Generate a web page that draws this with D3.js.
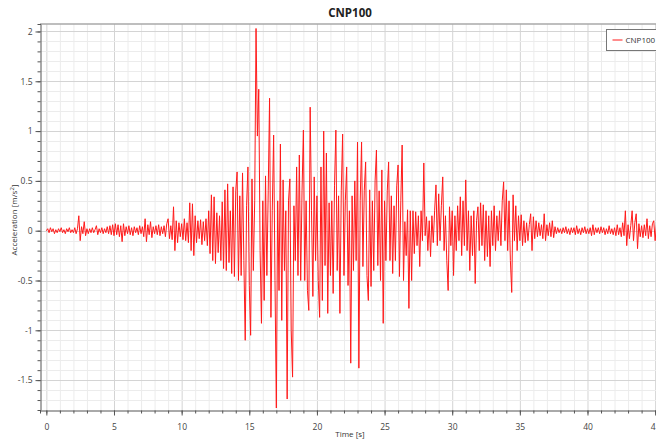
<!DOCTYPE html>
<html>
<head>
<meta charset="utf-8">
<script src="https://cdn.jsdelivr.net/npm/d3@7"></script>
<style>
	body { margin: 0; background: #fff; }
	text { font-family: "Open Sans", "Noto Sans", sans-serif; }
</style>
</head>
<body>
<svg class="line-chart"></svg>
<script>
var seriesName = "CNP100";
var timeStep = 0.1; // s, record sampling used for the trace below
// acceleration [m/s2], one row per second starting at t = 0 s
var accel = [
	0.00, 0.02, -0.02, 0.03, -0.01, 0.02, -0.03, 0.01, -0.02, 0.02,
	-0.01, 0.03, -0.02, 0.01, -0.03, 0.02, -0.01, 0.03, -0.02, 0.01,
	-0.02, 0.03, -0.03, 0.02, 0.15, -0.10, 0.04, -0.03, 0.09, -0.05,
	0.02, -0.03, 0.02, -0.02, 0.03, -0.02, 0.01, 0.05, -0.04, 0.02,
	-0.02, 0.03, -0.03, 0.02, -0.02, 0.04, -0.03, 0.05, -0.04, 0.06,
	-0.05, 0.07, -0.04, 0.06, -0.06, 0.05, -0.11, 0.07, -0.05, 0.04,
	-0.03, 0.05, -0.04, 0.03, -0.05, 0.04, -0.02, 0.03, -0.04, 0.05,
	-0.03, 0.04, -0.06, 0.12, -0.11, 0.06, -0.04, 0.09, -0.07, 0.04,
	-0.03, 0.05, -0.04, 0.06, -0.05, 0.04, -0.03, 0.05, -0.06, 0.07,
	0.12, -0.08, 0.05, -0.09, 0.24, -0.20, 0.10, -0.12, 0.08, -0.06,
	0.07, -0.09, 0.12, -0.10, 0.08, -0.12, 0.28, -0.20, 0.27, -0.25,
	0.15, -0.12, 0.10, -0.08, 0.11, -0.14, 0.09, -0.10, 0.12, -0.15,
	0.20, -0.23, 0.36, -0.30, 0.34, -0.33, 0.18, -0.22, 0.15, -0.30,
	0.29, -0.38, 0.41, -0.40, 0.47, -0.32, 0.20, -0.43, 0.44, -0.46,
	0.40, 0.59, -0.50, 0.35, -0.45, 0.58, -0.30, -1.10, 0.25, 0.64,
	-0.55, -1.05, 0.52, -0.40, 0.30, 2.03, 0.95, 1.42, -0.20, -0.93,
	0.30, -0.70, 0.55, -0.45, 0.40, 1.33, -0.87, 0.20, 0.96, -0.50,
	-1.78, 0.30, -0.60, 0.87, -0.90, 0.51, -0.40, 0.20, -1.69, 0.30,
	0.52, -1.00, -1.47, 0.25, -0.30, 0.64, -0.45, 0.76, -0.50, 0.40,
	1.01, -0.50, 0.30, -0.60, -0.80, 1.24, 0.20, -0.66, 0.54, -0.30,
	0.35, -0.50, -0.87, 0.64, -0.70, 1.00, -0.35, 0.78, -0.83, 0.28,
	-0.45, 0.30, -0.63, 0.45, 1.01, -0.40, 0.35, -0.83, 0.40, 0.97,
	-0.45, 0.30, 0.64, -0.55, 0.20, -1.33, 0.35, -0.40, 0.50, -0.30,
	0.89, -1.38, 0.30, 0.89, -0.36, 0.40, 0.69, -0.45, -0.70, 0.41,
	-0.56, 0.30, -0.40, 0.50, 0.81, -0.35, 0.40, -0.50, 0.61, -0.93,
	0.30, -0.30, 0.40, 0.69, -0.30, 0.35, -0.43, 0.25, -0.30, 0.45,
	0.66, -0.46, 0.30, 0.86, -0.50, 0.09, -0.25, 0.21, -0.78, 0.20,
	-0.50, 0.20, -0.23, 0.19, -0.15, 0.15, -0.36, 0.20, -0.10, 0.68,
	-0.05, 0.14, -0.20, 0.10, -0.26, 0.15, -0.12, 0.20, 0.46, -0.15,
	0.37, -0.10, 0.25, 0.54, -0.20, 0.15, -0.30, -0.60, 0.24, -0.15,
	0.20, -0.45, 0.15, -0.20, 0.25, -0.10, 0.34, -0.25, 0.30, -0.15,
	0.51, -0.20, 0.20, -0.40, 0.15, -0.25, 0.20, -0.53, 0.10, 0.24,
	-0.20, 0.28, -0.15, 0.26, -0.30, 0.20, -0.26, 0.15, -0.36, 0.20,
	-0.15, 0.25, -0.20, 0.15, -0.10, 0.20, -0.15, 0.30, 0.49, -0.10,
	0.41, -0.20, 0.30, -0.30, -0.62, 0.36, -0.10, 0.25, -0.20, 0.15,
	-0.10, 0.16, -0.15, 0.10, -0.12, 0.08, -0.10, 0.06, 0.17, -0.20,
	0.14, -0.08, 0.10, -0.06, 0.08, -0.05, 0.06, -0.08, 0.17, -0.10,
	0.06, -0.05, 0.08, -0.06, 0.10, -0.07, 0.04, -0.03, 0.03, -0.02,
	0.02, -0.03, 0.03, -0.02, 0.04, -0.03, 0.02, -0.04, 0.03, -0.02,
	0.03, -0.04, 0.05, -0.03, 0.02, -0.04, 0.03, -0.02, 0.04, -0.03,
	0.02, -0.03, 0.03, -0.05, 0.06, -0.04, 0.03, -0.02, 0.03, -0.03,
	0.04, -0.02, 0.03, -0.04, 0.02, -0.03, 0.05, -0.03, 0.02, -0.04,
	0.03, -0.05, 0.06, -0.04, 0.03, -0.06, 0.08, -0.05, 0.20, -0.15,
	0.06, -0.08, 0.05, 0.20, -0.10, 0.08, 0.17, -0.18, 0.07, -0.06,
	0.05, -0.07, 0.06, -0.05, 0.12, -0.08, 0.05, -0.06, 0.07, 0.10,
	-0.10, 0.06, -0.05, 0.08, -0.06, 0.04
];
var xTickValues = [0, 5, 10, 15, 20, 25, 30, 35, 40, 45];
var yTickValues = [-1.5, -1, -0.5, 0, 0.5, 1, 1.5, 2];

function parseData(values) {
	var out = [];
	for (var i = 0; i < values.length; i++) {
		out.push({ time: i * timeStep, value: values[i] });
	}
	return out;
}

function drawChart(data) {
	var svgWidth = 656, svgHeight = 439;
	var left = 40, top = 24, right = 660, bottom = 410;

	var svg = d3.select(".line-chart")
	.attr("width", svgWidth)
	.attr("height", svgHeight);

	var x = d3.scaleLinear()
	.domain([-0.47, 45.36])
	.range([left, right]);

	var y = d3.scaleLinear()
	.domain([-1.80, 2.075])
	.range([bottom, top]);

	// minor grid
	var grid = svg.append("g");
	grid.selectAll(".vminor")
	.data(d3.range(0, 46, 1))
	.enter().append("line")
	.attr("x1", function(d) { return x(d) + 0.5 })
	.attr("x2", function(d) { return x(d) + 0.5 })
	.attr("y1", top)
	.attr("y2", bottom)
	.attr("stroke", function(d) { return d % 5 === 0 ? "#d4d4d4" : "#ececec" })
	.attr("stroke-width", 1);

	grid.selectAll(".hminor")
	.data(d3.range(-17, 21, 1))
	.enter().append("line")
	.attr("x1", left)
	.attr("x2", right)
	.attr("y1", function(d) { return Math.round(y(d / 10)) + 0.5 })
	.attr("y2", function(d) { return Math.round(y(d / 10)) + 0.5 })
	.attr("stroke", function(d) { return d % 5 === 0 ? "#d4d4d4" : "#ececec" })
	.attr("stroke-width", 1);

	// top border
	svg.append("line")
	.attr("x1", left)
	.attr("x2", right)
	.attr("y1", top)
	.attr("y2", top)
	.attr("stroke", "#a8a8a8")
	.attr("stroke-width", 1.5);

	svg.append("clipPath")
	.attr("id", "plot-clip")
	.append("rect")
	.attr("x", left)
	.attr("y", top)
	.attr("width", right - left)
	.attr("height", bottom - top);

	var line = d3.line()
	.x(function(d) { return x(d.time) })
	.y(function(d) { return y(d.value) });

	svg.append("path")
	.datum(data)
	.attr("clip-path", "url(#plot-clip)")
	.attr("fill", "none")
	.attr("stroke", "#ff1a1a")
	.attr("stroke-width", 1)
	.attr("stroke-linejoin", "round")
	.attr("d", line);

	// x axis
	var xAxis = svg.append("g")
	.attr("transform", "translate(0," + (bottom + 0.5) + ")");
	xAxis.call(d3.axisBottom(x).tickValues(d3.range(0, 46, 1)).tickSize(3).tickFormat(""))
	.selectAll("text").remove();
	xAxis.append("g")
	.call(d3.axisBottom(x).tickValues(xTickValues).tickSize(5).tickPadding(8).tickFormat(d3.format("d")))
	.call(function(g) { g.select(".domain").remove() });
	xAxis.selectAll(".domain").attr("stroke", "#555");
	xAxis.selectAll(".tick line").attr("stroke", "#555");
	xAxis.selectAll("text")
	.attr("fill", "#444")
	.attr("font-size", 8.5)
	.style("font-family", "'Open Sans', sans-serif");

	// y axis
	var yAxis = svg.append("g")
	.attr("transform", "translate(" + (left + 0.5) + ",0)");
	yAxis.call(d3.axisLeft(y).tickValues(d3.range(-17, 21, 1).map(function(d) { return d / 10 })).tickSize(3).tickFormat(""))
	.selectAll("text").remove();
	yAxis.append("g")
	.call(d3.axisLeft(y).tickValues(yTickValues).tickSize(5).tickPadding(3).tickFormat(function(d) { return d }))
	.call(function(g) { g.select(".domain").remove() });
	yAxis.selectAll(".domain").attr("stroke", "#555");
	yAxis.selectAll(".tick line").attr("stroke", "#555");
	yAxis.selectAll("text")
	.attr("fill", "#444")
	.attr("font-size", 8.5)
	.style("font-family", "'Open Sans', sans-serif");

	// titles
	svg.append("text")
	.attr("x", 350)
	.attr("y", 17)
	.attr("text-anchor", "middle")
	.attr("font-size", 11.5)
	.attr("font-weight", "bold")
	.attr("fill", "#222")
	.text(seriesName);

	svg.append("text")
	.attr("x", 350)
	.attr("y", 437)
	.attr("text-anchor", "middle")
	.attr("font-size", 8)
	.attr("fill", "#333")
	.text("Time [s]");

	var yLabel = svg.append("text")
	.attr("transform", "translate(17,220) rotate(-90)")
	.attr("text-anchor", "middle")
	.attr("font-size", 8)
	.attr("fill", "#333");
	yLabel.append("tspan").text("Acceleration [m/s");
	yLabel.append("tspan").attr("font-size", 6).attr("dy", -3).text("2");
	yLabel.append("tspan").attr("dy", 3).text("]");

	// legend
	var legend = svg.append("g")
	.attr("transform", "translate(606.5,29.5)");
	legend.append("rect")
	.attr("width", 60)
	.attr("height", 21)
	.attr("fill", "#fff")
	.attr("stroke", "#777");
	legend.append("line")
	.attr("x1", 6)
	.attr("x2", 16)
	.attr("y1", 10.5)
	.attr("y2", 10.5)
	.attr("stroke", "#ff1a1a")
	.attr("stroke-width", 1);
	legend.append("text")
	.attr("x", 19)
	.attr("y", 13.5)
	.attr("font-size", 8)
	.attr("fill", "#333")
	.text(seriesName);
}

drawChart(parseData(accel));
</script>
</body>
</html>
